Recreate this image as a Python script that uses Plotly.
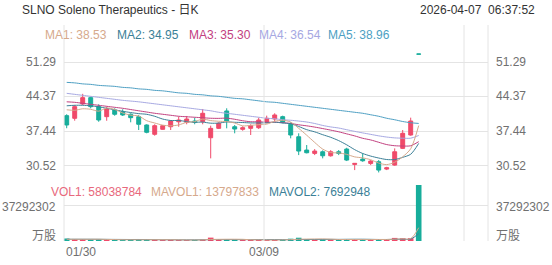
import plotly.graph_objects as go

# ---------------- data ----------------
dates = ["01/30",
         "02/02", "02/03", "02/04", "02/05", "02/06",
         "02/09", "02/10", "02/11", "02/12", "02/13",
         "02/17", "02/18", "02/19", "02/20",
         "02/23", "02/24", "02/25", "02/26", "02/27",
         "03/02", "03/03", "03/04", "03/05", "03/06",
         "03/09", "03/10", "03/11", "03/12", "03/13",
         "03/16", "03/17", "03/18", "03/19", "03/20",
         "03/23", "03/24", "03/25", "03/26", "03/27",
         "03/30", "03/31", "04/01", "04/02", "04/06"]

opens = [40.52, 39.99, 42.87, 44.14, 42.33, 40.32, 41.66, 41.32, 40.80, 40.32,
         38.65, 36.78, 37.78, 38.30, 39.30, 39.19, 39.45, 39.31, 36.09, 37.98,
         41.46, 38.30, 37.78, 37.98, 38.10, 39.19, 39.85, 40.32, 38.79, 36.29,
         33.62, 32.95, 33.28, 32.47, 33.28, 33.82, 30.74, 31.81, 30.94, 31.27,
         29.80, 30.60, 33.96, 36.64, 52.90]
highs = [40.80, 42.67, 44.90, 44.34, 42.80, 42.33, 42.00, 41.80, 41.00, 40.66,
         38.79, 38.79, 38.65, 39.65, 40.32, 40.46, 40.12, 41.86, 38.51, 39.19,
         42.00, 38.65, 38.40, 38.79, 40.12, 40.52, 41.00, 40.52, 39.19, 36.98,
         34.63, 33.82, 33.56, 33.60, 33.62, 34.08, 30.94, 32.95, 31.61, 31.61,
         30.26, 33.96, 37.64, 40.12, 52.90]
lows = [38.00, 39.51, 42.67, 42.00, 39.30, 39.50, 40.50, 40.46, 39.19, 37.64,
        36.98, 36.50, 37.70, 37.64, 38.30, 38.79, 38.79, 38.79, 31.95, 37.84,
        37.98, 36.98, 37.50, 36.64, 37.84, 38.99, 39.31, 38.99, 35.97, 32.61,
        32.95, 32.61, 31.95, 32.30, 32.61, 31.41, 29.60, 31.27, 30.60, 29.13,
        29.60, 30.46, 33.82, 36.50, 52.87]
closes = [38.65, 42.33, 44.14, 42.33, 39.65, 41.86, 40.80, 40.66, 40.12, 38.79,
          37.18, 38.51, 38.51, 39.45, 39.65, 39.85, 39.19, 41.00, 37.98, 38.99,
          39.45, 37.84, 38.10, 38.51, 39.65, 39.99, 40.66, 39.19, 36.64, 33.42,
          33.08, 33.42, 32.47, 33.28, 32.95, 31.61, 30.94, 31.47, 31.41, 29.60,
          30.07, 33.28, 36.98, 39.45, 52.87]
volumes = [2600000, 1900000, 1800000, 1500000, 1600000, 1400000, 1100000, 1000000, 1200000, 1500000,
           1600000, 1300000, 1000000, 1100000, 1000000, 1000000, 1100000, 1400000, 3500000, 1600000,
           1500000, 1200000, 1000000, 1100000, 1200000, 1000000, 1100000, 1200000, 2400000, 3400000,
           1900000, 1500000, 1600000, 1400000, 1300000, 1900000, 1600000, 1300000, 1400000, 1740000,
           1900000, 3200000, 2900000, 2950000, 58038784]

ma1 = [41.70, 41.60, 41.90, 41.80, 41.42, 42.06, 41.76, 41.06, 40.62, 40.45,
       39.51, 39.05, 38.62, 38.49, 38.66, 39.19, 39.33, 39.83, 39.53, 39.40,
       39.32, 39.05, 38.47, 38.58, 38.71, 38.82, 39.38, 39.60, 39.23, 37.98,
       36.60, 35.15, 33.81, 33.13, 33.04, 32.75, 32.25, 32.05, 31.68, 31.01,
       30.70, 31.17, 32.27, 33.88, 38.53]
ma2 = [42.50, 42.60, 42.60, 42.50, 42.30, 42.00, 41.70, 41.40, 41.15, 40.93,
       40.79, 40.40, 39.84, 39.55, 39.55, 39.35, 39.19, 39.23, 39.01, 39.03,
       39.26, 39.19, 39.15, 39.06, 39.06, 39.07, 39.22, 39.04, 38.90, 38.35,
       37.71, 37.27, 36.70, 36.18, 35.51, 34.67, 33.70, 32.93, 32.41, 32.02,
       31.72, 31.71, 32.16, 32.78, 34.95]
ma3 = [43.30, 43.20, 43.00, 42.80, 42.60, 42.40, 42.20, 42.00, 41.75, 41.50,
       41.25, 41.00, 40.80, 40.60, 40.40, 40.30, 40.20, 40.10, 40.00, 39.98,
       40.02, 39.80, 39.50, 39.30, 39.30, 39.21, 39.20, 39.13, 38.96, 38.69,
       38.48, 38.23, 37.93, 37.62, 37.28, 36.87, 36.46, 35.98, 35.65, 35.18,
       34.72, 34.49, 34.43, 34.48, 35.30]
ma4 = [45.00, 44.80, 44.60, 44.40, 44.20, 44.00, 43.80, 43.60, 43.45, 43.30,
       43.10, 42.90, 42.70, 42.50, 42.30, 42.10, 41.90, 41.70, 41.50, 41.20,
       41.00, 40.80, 40.60, 40.40, 40.20, 40.00, 39.90, 39.70, 39.60, 39.44,
       39.25, 38.95, 38.56, 38.26, 38.04, 37.70, 37.37, 37.06, 36.77, 36.47,
       36.23, 36.06, 36.00, 36.00, 36.54]
ma5 = [47.20, 47.10, 46.90, 46.80, 46.60, 46.50, 46.40, 46.20, 46.10, 45.90,
       45.80, 45.60, 45.50, 45.30, 45.10, 45.00, 44.80, 44.70, 44.50, 44.40,
       44.20, 44.00, 43.90, 43.70, 43.50, 43.30, 43.20, 43.00, 42.80, 42.60,
       42.40, 42.20, 42.00, 41.80, 41.60, 41.40, 41.20, 41.00, 40.70, 40.40,
       40.00, 39.70, 39.35, 39.10, 38.96]
mavol1 = [1800000, 1800000, 1800000, 1800000, 1880000, 1640000, 1480000, 1320000, 1260000, 1240000,
          1280000, 1320000, 1320000, 1300000, 1200000, 1080000, 1040000, 1120000, 1600000, 1720000,
          1820000, 1840000, 1760000, 1280000, 1200000, 1100000, 1080000, 1120000, 1380000, 1820000,
          2000000, 2080000, 2160000, 1960000, 1540000, 1540000, 1560000, 1500000, 1500000, 1590000,
          1590000, 1910000, 2230000, 2540000, 13797833]
mavol2 = [1800000, 1800000, 1800000, 1800000, 1750000, 1700000, 1650000, 1600000, 1550000, 1560000,
          1460000, 1400000, 1320000, 1280000, 1220000, 1180000, 1180000, 1220000, 1450000, 1460000,
          1450000, 1440000, 1440000, 1440000, 1460000, 1460000, 1460000, 1440000, 1330000, 1510000,
          1550000, 1580000, 1640000, 1670000, 1680000, 1770000, 1820000, 1830000, 1730000, 1560000,
          1570000, 1740000, 1870000, 2020000, 7692948]

price_ticks = [30.52, 37.44, 44.37, 51.29]
vol_ticks = [0, 37292302]
vol_tick_labels = ["万股", "37292302"]
date_ticks = ["01/30", "03/09"]

title_text = "SLNO Soleno Therapeutics - 日K"
time_text = "2026-04-07  06:37:52"

# ---------------- styling ----------------
W, H = 552, 265
L, R, T, B = 64, 64, 25, 24
PW, PH = W - L - R, H - T - B
FONT = "Liberation Sans, Arial, Noto Sans CJK SC, sans-serif"
RED, TEAL = "#f04a6a", "#17ad9b"
MA_COLORS = ["#d6a98c", "#3b7f97", "#c2407f", "#a6a8e2", "#4d9fc3"]
GRID = "#e4e4e4"
LABEL = "#707070"


def px_x(p):
    return (p - L) / PW


def px_y(p):
    return (H - B - p) / PH


x = list(range(len(dates)))
slot = 8.0
x_lo = -2.7 / slot
x_hi = x_lo + PW / slot

fig = go.Figure()

fig.add_trace(go.Candlestick(
    x=x, open=opens, high=highs, low=lows, close=closes,
    increasing=dict(line=dict(color=RED, width=1), fillcolor=RED),
    decreasing=dict(line=dict(color=TEAL, width=1), fillcolor=TEAL),
    whiskerwidth=0, hoverinfo="skip", showlegend=False, xaxis="x", yaxis="y"))

for arr, col in zip([ma5, ma4, ma3, ma2, ma1], MA_COLORS[::-1]):
    fig.add_trace(go.Scatter(x=x, y=arr, mode="lines",
                             line=dict(color=col, width=1, shape="spline", smoothing=0.8),
                             hoverinfo="skip", showlegend=False, xaxis="x", yaxis="y"))

vol_colors = [RED if c > o else TEAL for o, c in zip(opens, closes)]
fig.add_trace(go.Bar(x=x, y=volumes, marker=dict(color=vol_colors, line=dict(width=0)),
                     width=0.7, hoverinfo="skip", showlegend=False, xaxis="x", yaxis="y2"))
fig.add_trace(go.Scatter(x=x, y=mavol2, mode="lines",
                         line=dict(color=MA_COLORS[1], width=1, shape="spline"),
                         hoverinfo="skip", showlegend=False, xaxis="x", yaxis="y2"))
fig.add_trace(go.Scatter(x=x, y=mavol1, mode="lines",
                         line=dict(color=MA_COLORS[0], width=1, shape="spline"),
                         hoverinfo="skip", showlegend=False, xaxis="x", yaxis="y2"))

# price pane 25..175 px, volume pane 185..241 px
gpx = (51.29 - 30.52) / (165.5 - 62.0)
p_top = 51.29 + (62.0 - T) * gpx
p_bot = 30.52 - (175.0 - 165.5) * gpx

fig.update_layout(
    width=W, height=H, margin=dict(l=L, r=R, t=T, b=B),
    paper_bgcolor="white", plot_bgcolor="white",
    xaxis=dict(range=[x_lo, x_hi], showgrid=False, showticklabels=False, zeroline=False,
               showline=False, rangeslider=dict(visible=False), anchor="y2", fixedrange=True),
    yaxis=dict(domain=[px_y(175), 1], range=[p_bot, p_top], tickvals=price_ticks,
               showticklabels=False, showgrid=True, gridcolor=GRID, gridwidth=1,
               zeroline=False, fixedrange=True),
    yaxis2=dict(domain=[0, px_y(185)], range=[0, max(volumes)], tickvals=vol_ticks,
                showticklabels=False, showgrid=True, gridcolor=GRID, gridwidth=1,
                zeroline=False, fixedrange=True),
    showlegend=False,
)

# vertical grid lines
tick_idx = [dates.index(d) for d in date_ticks]
step = tick_idx[1] - tick_idx[0]
shapes = [dict(type="line", xref="paper", yref="paper", x0=0, x1=0, y0=0, y1=1,
               line=dict(color=GRID, width=1)),
          dict(type="line", xref="paper", yref="paper", x0=1, x1=1, y0=0, y1=1,
               line=dict(color=GRID, width=1))]
for k in [tick_idx[1], tick_idx[1] + step]:
    shapes.append(dict(type="line", xref="x", yref="paper", x0=k + x_lo, x1=k + x_lo,
                       y0=0, y1=1, line=dict(color=GRID, width=1)))
fig.update_layout(shapes=shapes)

ann = []


def text(s, xp, yp, color, anchor="left", size=12):
    ann.append(dict(text=s, x=px_x(xp), y=px_y(yp), xref="paper", yref="paper",
                    xanchor=anchor, yanchor="middle", showarrow=False,
                    font=dict(family=FONT, size=size, color=color)))


text(title_text, 20, 10, "#333333")
text(time_text, 537, 10, "#333333", anchor="right")

ma_vals = [ma1[-1], ma2[-1], ma3[-1], ma4[-1], ma5[-1]]
for i, (v, col, xp) in enumerate(zip(ma_vals, MA_COLORS, [43, 115, 187, 257, 326])):
    text(f"MA{i+1}: {v:.2f}", xp, 35, col)

text(f"VOL1: {volumes[-1]}", 49, 192, "#e8687c")
text(f"MAVOL1: {mavol1[-1]}", 149, 192, MA_COLORS[0])
text(f"MAVOL2: {mavol2[-1]}", 267, 192, MA_COLORS[1])

# price labels both sides
for v in price_ticks:
    for xp, anc in [(58, "right"), (494, "left")]:
        ann.append(dict(text=f"{v:.2f}", x=px_x(xp), y=v, xref="paper", yref="y",
                        xanchor=anc, yanchor="middle", showarrow=False,
                        font=dict(family=FONT, size=12, color=LABEL)))
# volume labels both sides
for v, s in zip(vol_ticks, vol_tick_labels):
    for xp, anc in [(58, "right"), (494, "left")]:
        ann.append(dict(text=s, x=px_x(xp), y=v, xref="paper", yref="y2",
                        xanchor=anc, yanchor="middle", yshift=(5 if v == 0 else -2),
                        showarrow=False, font=dict(family=FONT, size=12, color=LABEL)))
# date labels
for j, (k, s) in enumerate(zip(tick_idx, date_ticks)):
    ann.append(dict(text=s, x=k + x_lo, y=px_y(252), xref="x", yref="paper",
                    xanchor=("left" if j == 0 else "center"), yanchor="middle",
                    showarrow=False, font=dict(family=FONT, size=12, color=LABEL)))

fig.update_layout(annotations=ann)

fig.write_html("out.html", config={"displayModeBar": False, "staticPlot": True})
